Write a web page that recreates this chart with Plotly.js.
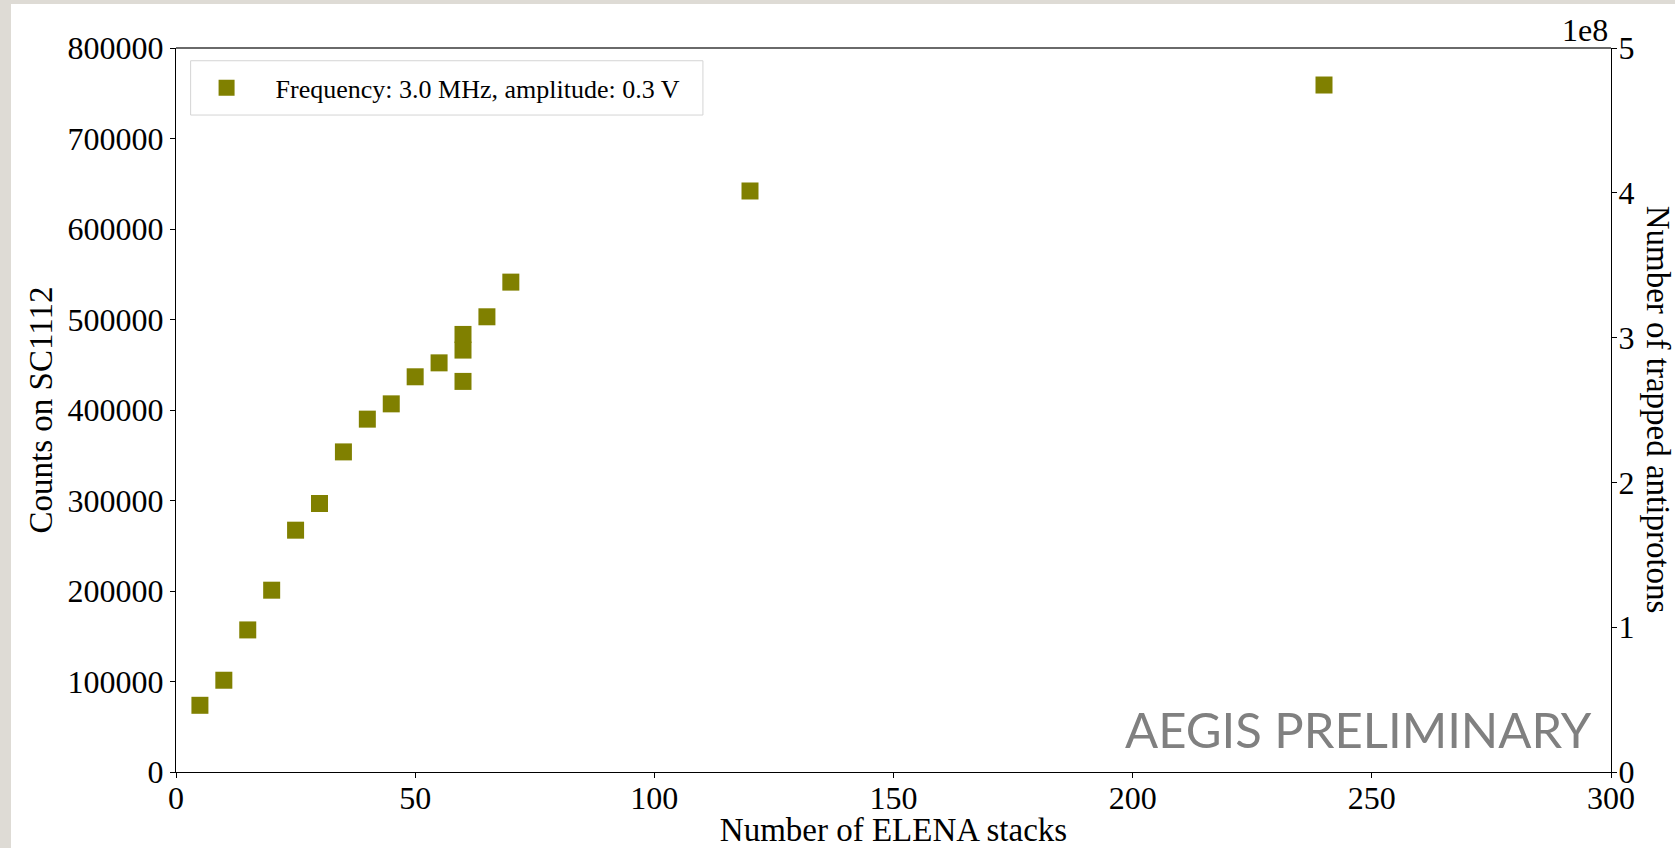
<!DOCTYPE html>
<html>
<head>
<meta charset="utf-8">
<script src="https://cdn.plot.ly/plotly-3.0.1.min.js"></script>
<style>
  html, body { margin: 0; padding: 0; background: #dedbd5; width: 1675px; height: 848px; overflow: hidden; }
  #chart { position: absolute; left: 11px; top: 4px; width: 1664px; height: 844px; background: #ffffff; }
</style>
</head>
<body>
<div id="chart"></div>
<script>
// ---- data ----
const stacks = [5, 10, 15, 20, 25, 30, 35, 40, 45, 50, 55, 60, 60, 60, 65, 70, 120, 240];
const counts = [73700, 101400, 157000, 200900, 267200, 296700, 353700, 389900, 406800,
                436700, 452100, 431600, 466200, 483500, 503000, 541300, 642000, 759100];
const seriesName = "Frequency: 3.0 MHz, amplitude: 0.3 V";
const xTicks = [0, 50, 100, 150, 200, 250, 300];
const yTicks = [0, 100000, 200000, 300000, 400000, 500000, 600000, 700000, 800000];
const y2Ticks = [0, 1, 2, 3, 4, 5];
const xTitle = "Number of ELENA stacks";
const yTitle = "Counts on SC1112";
const y2Title = "Number of trapped antiprotons";
const y2Offset = "1e8";
const watermark = "AEGIS PRELIMINARY";

const serif = "Liberation Serif, Times New Roman, serif";
const olive = "#808000";

const traces = [
  {
    x: stacks, y: counts, type: "scatter", mode: "markers", name: seriesName,
    marker: { symbol: "square", size: 17, color: olive, line: { width: 0 } },
    xaxis: "x", yaxis: "y"
  },
  {
    x: [null], y: [null], type: "scatter", mode: "markers", showlegend: false,
    hoverinfo: "skip", xaxis: "x", yaxis: "y2"
  }
];

const axisCommon = {
  showgrid: false, zeroline: false, showline: true, linecolor: "#000", linewidth: 1.2,
  ticks: "outside", ticklen: 5, tickwidth: 1, tickcolor: "#000",
  tickfont: { family: serif, size: 32, color: "#000" }
};

const layout = {
  width: 1664, height: 844,
  margin: { l: 165, r: 64, t: 44, b: 76 },
  paper_bgcolor: "#ffffff", plot_bgcolor: "#ffffff",
  showlegend: true,
  legend: {
    x: 0.0011, y: 0.9451, xanchor: "left", yanchor: "middle",
    bgcolor: "rgba(0,0,0,0)", borderwidth: 0,
    font: { family: serif, size: 26, color: "#000" },
    itemwidth: 88
  },
  xaxis: Object.assign({}, axisCommon, {
    range: [0, 300], tickmode: "array", tickvals: xTicks, ticklabelstandoff: -8,
    title: { text: xTitle, font: { family: serif, size: 33, color: "#000" }, standoff: 10 }
  }),
  yaxis: Object.assign({}, axisCommon, {
    range: [0, 800000], tickmode: "array", tickvals: yTicks, tickformat: "d",
    title: { text: yTitle, font: { family: serif, size: 33, color: "#000" }, standoff: 4 }
  }),
  yaxis2: Object.assign({}, axisCommon, {
    overlaying: "y", side: "right", anchor: "x", ticklabelstandoff: -5,
    range: [0, 5], tickmode: "array", tickvals: y2Ticks
  }),
  shapes: [
    { type: "rect", xref: "paper", yref: "paper", x0: 0.0102, x1: 0.3672, y0: 0.9074, y1: 0.9824,
      line: { color: "#d4d4d4", width: 1 }, fillcolor: "rgba(255,255,255,0.8)", layer: "below" },
    { type: "line", xref: "paper", yref: "paper", x0: 0, x1: 1, y0: 1, y1: 1,
      line: { color: "#6a6a6a", width: 2 } }
  ],
  annotations: [
    { text: y2Title, xref: "paper", yref: "paper", x: 1.033, y: 0.5,
      xanchor: "center", yanchor: "middle", textangle: 90, showarrow: false,
      font: { family: serif, size: 33, color: "#000" } },
    { text: y2Offset, xref: "paper", yref: "paper", x: 0.9993, y: 1, yshift: -2,
      xanchor: "right", yanchor: "bottom", showarrow: false,
      font: { family: serif, size: 32, color: "#000" } },
    { text: watermark, xref: "paper", yref: "paper", x: 0.9883, y: 0.059,
      xanchor: "right", yanchor: "middle", showarrow: false,
      font: { family: "Lato, sans-serif", size: 49, color: "#808080" } }
  ]
};

Plotly.newPlot("chart", traces, layout, { displayModeBar: false, staticPlot: true });
</script>
</body>
</html>
